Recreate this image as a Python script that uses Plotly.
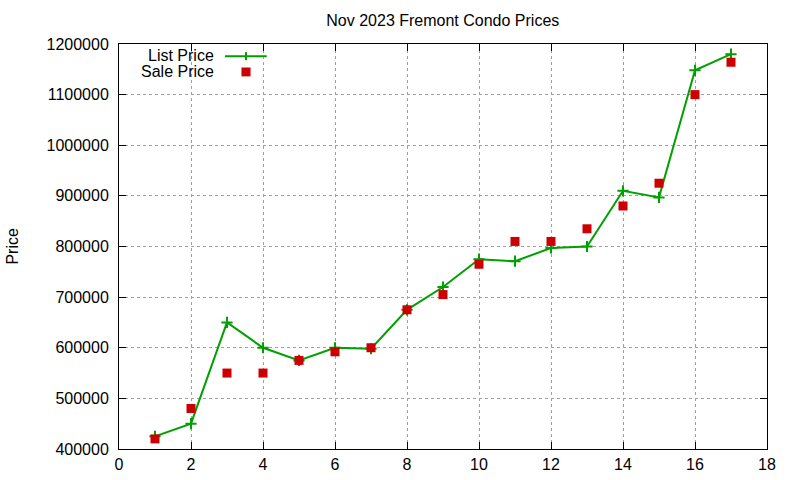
import plotly.graph_objects as go

# data
unit = list(range(1, 18))
list_price = [425000, 450000, 650000, 600000, 575000, 600000, 598000, 675000, 720000,
              775000, 771000, 797000, 800000, 910000, 897000, 1148000, 1180000]
sale_price = [420000, 480000, 550000, 550000, 575000, 592000, 600000, 675000, 705000,
              765000, 810000, 810000, 835000, 880000, 925000, 1100000, 1164000]

x_ticks = list(range(0, 19, 2))
y_ticks = list(range(400000, 1200001, 100000))

GREEN = "#00a000"
RED = "#cc0000"
FONT = "Liberation Sans, Arial, sans-serif"

fig = go.Figure()

fig.add_trace(go.Scatter(
    x=unit, y=list_price, mode="lines+markers", name="List Price",
    line=dict(color=GREEN, width=2),
    marker=dict(symbol="cross-thin", size=8, line=dict(color=GREEN, width=2)),
    showlegend=False,
))
fig.add_trace(go.Scatter(
    x=unit, y=sale_price, mode="markers", name="Sale Price",
    marker=dict(symbol="square", size=9, color=RED),
    showlegend=False,
))

axis_common = dict(
    showline=True, linecolor="black", linewidth=1, mirror="ticks",
    ticks="inside", ticklen=7, tickcolor="black", automargin=False,
    showgrid=True, gridcolor="#a0a0a0", griddash="dot", gridwidth=1,
    zeroline=False, tickfont=dict(size=16, color="black", family=FONT),
)

fig.update_xaxes(range=[0, 18], tickvals=x_ticks, ticklabelstandoff=1, **axis_common)
fig.update_yaxes(range=[400000, 1200000], tickvals=y_ticks,
                 tickformat="d", ticklabelstandoff=6, **axis_common)

# gnuplot style key: text on the left, sample on the right
fig.add_annotation(x=0.15, y=0.972, xref="paper", yref="paper", text="List Price",
                   showarrow=False, xanchor="right", yanchor="middle",
                   font=dict(size=16, family=FONT, color="black"))
fig.add_annotation(x=0.15, y=0.932, xref="paper", yref="paper", text="Sale Price",
                   showarrow=False, xanchor="right", yanchor="middle",
                   font=dict(size=16, family=FONT, color="black"))
fig.add_shape(type="line", xref="paper", yref="paper", x0=0.1636, x1=0.228,
              y0=0.970, y1=0.970, line=dict(color=GREEN, width=2))
fig.add_shape(type="line", xref="paper", yref="paper", x0=0.196, x1=0.196,
              y0=0.960, y1=0.980, line=dict(color=GREEN, width=2))
fig.add_shape(type="rect", xref="paper", yref="paper", x0=0.189, x1=0.203,
              y0=0.920, y1=0.942, line=dict(width=0), fillcolor=RED)

fig.add_annotation(x=-0.165, y=0.5, xref="paper", yref="paper", text="Price",
                   showarrow=False, textangle=-90, xanchor="center", yanchor="middle",
                   font=dict(size=16, family=FONT, color="black"))

fig.update_layout(
    width=800, height=480,
    margin=dict(l=119, r=33, t=44, b=31),
    paper_bgcolor="white", plot_bgcolor="white",
    title=dict(text="Nov 2023 Fremont Condo Prices", x=0.5535, xanchor="center",
               y=0.958, yanchor="middle",
               font=dict(size=16, family=FONT, color="black")),
    font=dict(family=FONT, color="black"),
)

# drop the default page margin so the figure sits at the window corner
fig.write_html("out.html", config={"displayModeBar": False},
               post_script="document.body.style.margin = '0';")
